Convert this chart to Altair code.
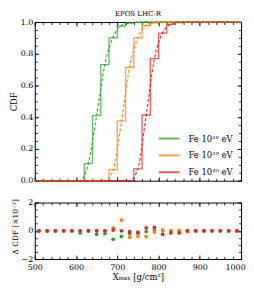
import altair as alt
import pandas as pd

# ---------------- data ----------------
bin_centers = [510, 530, 550, 570, 590, 610, 630, 650, 670, 690, 710, 730, 750,
               770, 790, 810, 830, 850, 870, 890, 910, 930, 950, 970, 990]
series = ["Fe 10¹⁸ eV", "Fe 10¹⁹ eV", "Fe 10²⁰ eV"]
colors = ["#2ca02c", "#ff7f0e", "#d62728"]

cdf_18 = [0, 0, 0, 0, 0, 0, 0.108, 0.41, 0.732, 0.90, 0.975, 0.993, 0.998,
          1, 1, 1, 1, 1, 1, 1, 1, 1, 1, 1, 1]
cdf_19 = [0, 0, 0, 0, 0, 0, 0, 0, 0, 0.07, 0.377, 0.714, 0.90,
          0.978, 0.995, 1, 1, 1, 1, 1, 1, 1, 1, 1, 1]
cdf_20 = [0, 0, 0, 0, 0, 0, 0, 0, 0, 0, 0, 0, 0.075,
          0.414, 0.77, 0.93, 0.985, 0.997, 1, 1, 1, 1, 1, 1, 1]

# data - model, in units of 1e-2
dcdf_18 = [0, 0, 0, 0, 0, -0.15, 0, -0.25, -0.2, -0.6, -0.4, -0.2, -0.1,
           -0.05, 0.05, 0.05, 0, 0, 0, 0, 0, 0, 0, 0, 0]
dcdf_19 = [0, 0, 0, 0, 0, 0, 0, 0, 0, 0.2, 0.75, -0.45, -0.4,
           -0.4, -0.1, 0, 0, 0, -0.05, 0, 0, 0, 0, 0, 0]
dcdf_20 = [0, 0, 0, 0, 0, 0, 0, 0, 0, 0.05, 0, -0.05, -0.15,
           0.2, 0.25, -0.25, -0.15, -0.15, 0, 0, 0, 0, 0, 0, 0]

x_major = [500, 600, 700, 800, 900, 1000]
x_minor = list(range(500, 1001, 20))
y1_major = [0.0, 0.2, 0.4, 0.6, 0.8, 1.0]
y1_minor = [i * 0.05 for i in range(21)]
y2_major = [-2, 0, 2]
y2_minor = [-2, -1.5, -1, -0.5, 0, 0.5, 1, 1.5, 2]

# ---------------- tables ----------------
step_rows, dash_rows, diff_rows = [], [], []
for k, (name, cdf, d) in enumerate(zip(series, [cdf_18, cdf_19, cdf_20],
                                        [dcdf_18, dcdf_19, dcdf_20])):
    for c, v, dv in zip(bin_centers, cdf, d):
        step_rows.append({"x": c - 10, "y": v, "s": name, "k": k})
        dash_rows.append({"x": c, "y": v - dv / 100.0, "s": name, "k": k})
        diff_rows.append({"x": c, "y": dv, "s": name, "k": k})
    step_rows.append({"x": 1000, "y": cdf[-1], "s": name, "k": k})
steps = pd.DataFrame(step_rows)
dashed = pd.DataFrame(dash_rows)
diffs = pd.DataFrame(diff_rows)

W, H1, H2 = 208, 160, 57
FONT = "DejaVu Serif"
MAJ, MIN = 4, 2.5

xscale = alt.Scale(domain=[500, 1000], nice=False, zero=False)
y1scale = alt.Scale(domain=[0, 1], nice=False)
y2scale = alt.Scale(domain=[-2, 2], nice=False)
cscale = alt.Scale(domain=series, range=colors)


def tick_axis(orient, offset, values, size):
    return alt.Axis(orient=orient, offset=offset, values=values, tickSize=size,
                    labels=False, domain=False, grid=False, title=None,
                    ticks=True, tickColor="black", tickWidth=0.8)


def panel(H, yscale, ymaj, ymin, ylabel_axis, xlabel_axis, main_layers, base_df):
    ticks_spec = [
        (tick_axis("top", -H, x_major, MAJ), tick_axis("right", -W, ymaj, MAJ)),
        (tick_axis("top", -H, x_minor, MIN), tick_axis("right", -W, ymin, MIN)),
        (tick_axis("bottom", -H, x_major, MAJ), tick_axis("left", -W, ymaj, MAJ)),
        (tick_axis("bottom", -H, x_minor, MIN), tick_axis("left", -W, ymin, MIN)),
    ]
    layers = []
    layers.append(alt.Chart(base_df).mark_point(opacity=0).encode(
        x=alt.X("x:Q", scale=xscale, axis=xlabel_axis),
        y=alt.Y("y:Q", scale=yscale, axis=ylabel_axis)))
    for xa, ya in ticks_spec:
        layers.append(alt.Chart(base_df).mark_point(opacity=0).encode(
            x=alt.X("x:Q", scale=xscale, axis=xa),
            y=alt.Y("y:Q", scale=yscale, axis=ya)))
    layers += main_layers
    return alt.layer(*layers).resolve_axis(x="independent", y="independent") \
        .properties(width=W, height=H)


# ---------------- top panel ----------------
step_layer = alt.Chart(steps).mark_line(interpolate="step-after", strokeWidth=1.3,
                                        opacity=0.75).encode(
    x=alt.X("x:Q", scale=xscale, axis=None),
    y=alt.Y("y:Q", scale=y1scale, axis=None),
    color=alt.Color("s:N", scale=cscale, legend=alt.Legend(
        orient="none", legendX=124, legendY=106, title=None,
        symbolType="stroke", symbolSize=440, symbolStrokeWidth=2,
        symbolOpacity=0.75, labelFont=FONT, labelFontSize=8.5,
        labelOffset=8, rowPadding=1)),
    detail="k:N")

dash_layer = alt.Chart(dashed).mark_line(interpolate="monotone", strokeWidth=1.1,
                                         strokeDash=[3, 2]).encode(
    x=alt.X("x:Q", scale=xscale, axis=None),
    y=alt.Y("y:Q", scale=y1scale, axis=None),
    color=alt.Color("s:N", scale=cscale, legend=None),
    detail="k:N")

top_ylab = alt.Axis(values=y1_major, format=".1f", ticks=False, domain=False,
                    grid=False, title="CDF", labelPadding=2, titlePadding=2,
                    labelFlush=False)
top_xlab = alt.Axis(values=x_major, labels=False, ticks=False, domain=False,
                    grid=False, title=None)

top = panel(H1, y1scale, y1_major, y1_minor, top_ylab, top_xlab,
            [step_layer, dash_layer], steps).properties(
    title=alt.TitleParams("EPOS LHC-R", fontSize=7, font=FONT,
                          fontWeight="normal", offset=1, anchor="middle"))

# ---------------- bottom panel ----------------
pts = alt.Chart(diffs).mark_circle(size=14, opacity=1).encode(
    x=alt.X("x:Q", scale=xscale, axis=None),
    y=alt.Y("y:Q", scale=y2scale, axis=None),
    color=alt.Color("s:N", scale=cscale, legend=None),
    order=alt.Order("k:Q"))

bot_ylab = alt.Axis(values=y2_major, format="d", ticks=False, domain=False,
                    grid=False, title="Δ CDF [×10⁻²]", labelPadding=2,
                    titlePadding=2, labelFlush=False, titleFontSize=7.5,
                    titleY=24)
bot_xlab = alt.Axis(values=x_major, format="d", ticks=False, domain=False,
                    grid=False, title="Xₘₐₓ [g/cm²]", labelPadding=5,
                    titlePadding=1, labelFlush=False,
                    labelOffset={"condition": {"test": "datum.value == 1000",
                                               "value": -6}, "value": 0})

bottom = panel(H2, y2scale, y2_major, y2_minor, bot_ylab, bot_xlab, [pts], diffs)

chart = alt.vconcat(top, bottom, spacing=22, bounds="flush").properties(
    padding={"left": 0, "top": 0, "right": 0, "bottom": 0}
).configure_view(stroke="black", strokeWidth=1).configure_axis(
    labelFont=FONT, labelFontSize=8, labelColor="black",
    titleFont=FONT, titleFontSize=8.5, titleFontWeight="normal",
    titleColor="black"
).configure_legend(labelColor="black")

chart.save("out.html", embed_options={"renderer": "svg", "actions": False})
